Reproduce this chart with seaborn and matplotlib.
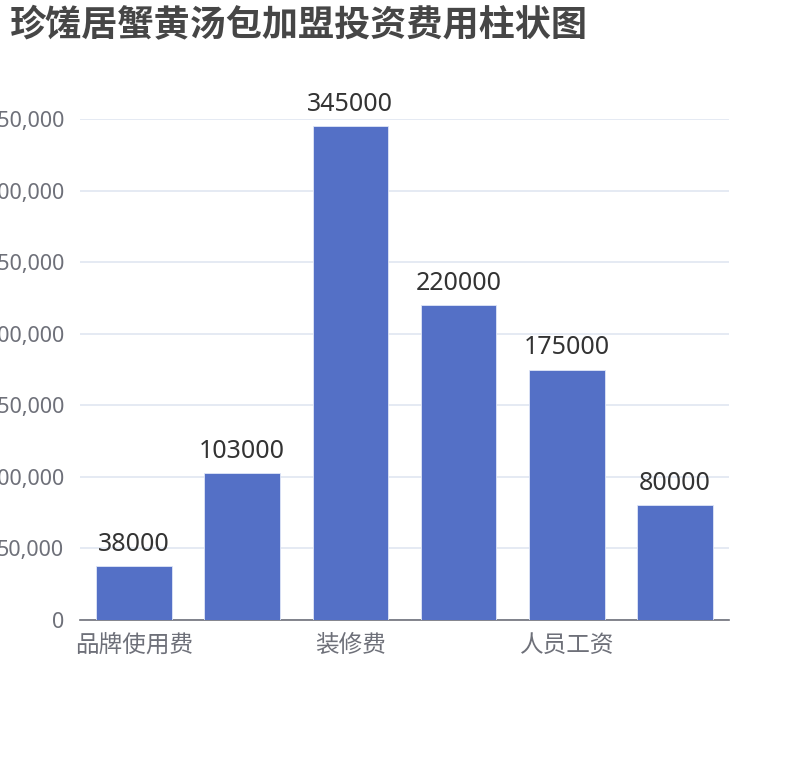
import pandas as pd
import matplotlib
matplotlib.use("Agg")
import matplotlib.pyplot as plt
from matplotlib.ticker import FuncFormatter, FixedLocator
import seaborn as sns

# data
categories = ["品牌使用费", "设备费", "装修费", "房租", "人员工资", "原材料费"]
costs = [38000, 103000, 345000, 220000, 175000, 80000]
shown_labels = ["品牌使用费", "装修费", "人员工资"]
y_ticks = [0, 50000, 100000, 150000, 200000, 250000, 300000, 350000]

title = "珍馐居蟹黄汤包加盟投资费用柱状图"


def main():
    sns.set_theme(style="white")
    plt.rcParams["font.family"] = ["Noto Sans", "Noto Sans CJK SC", "DejaVu Sans"]

    df = pd.DataFrame({"category": categories, "cost": costs})

    fig = plt.figure(figsize=(8.1, 7.6), dpi=100)
    ax = fig.add_axes([80 / 810, 1 - 620 / 760, 649 / 810, 501 / 760])

    sns.barplot(data=df, x="category", y="cost", order=categories,
                color="#5470c6", saturation=1, width=0.7,
                edgecolor="#dfe6f7", linewidth=0.6, ax=ax, zorder=3)

    ax.set_ylim(0, 350000)
    ax.set_xlim(-0.5, len(categories) - 0.5)
    ax.yaxis.set_major_locator(FixedLocator(y_ticks))
    ax.yaxis.set_major_formatter(FuncFormatter(lambda v, p: f"{int(v):,}"))
    ax.grid(axis="y", color="#e0e6f1", linewidth=1.2, zorder=0)
    ax.grid(axis="x", visible=False)

    # labels only on every other category, ticks on boundaries
    label_pos = [categories.index(c) for c in shown_labels]
    ax.set_xticks(label_pos)
    ax.set_xticklabels(shown_labels)
    ax.set_xticks([-0.5, 1.5, 3.5, 5.5], minor=True)
    ax.tick_params(axis="x", which="major", length=0, pad=10,
                   labelsize=17, labelcolor="#6e7079")
    ax.tick_params(axis="x", which="minor", length=5, width=1.2,
                   color="#6e7079", direction="out")
    ax.tick_params(axis="y", length=0, pad=11.5, labelsize=15.5,
                   labelcolor="#6e7079")

    for s in ["top", "right", "left"]:
        ax.spines[s].set_visible(False)
    ax.spines["bottom"].set_color("#6e7079")
    ax.spines["bottom"].set_linewidth(1.2)
    ax.set_xlabel("")
    ax.set_ylabel("")

    for cont in ax.containers:
        ax.bar_label(cont, labels=[str(v) for v in costs], padding=6.5,
                     fontsize=18, color="#333333")

    fig.text(10 / 810, 1 - 26 / 760, title, fontsize=26, fontweight="bold",
             color="#464646", va="center", ha="left",
             family=["Noto Sans CJK SC", "DejaVu Sans"])

    fig.savefig("out.png", dpi=100)


if __name__ == "__main__":
    main()
